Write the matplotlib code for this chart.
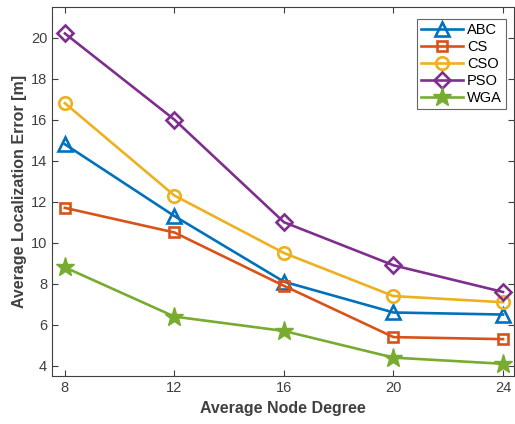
import matplotlib
matplotlib.use('Agg')
import matplotlib.pyplot as plt

degree = [8, 12, 16, 20, 24]
abc = [14.8, 11.3, 8.1, 6.6, 6.5]
cs = [11.7, 10.5, 7.9, 5.4, 5.3]
cso = [16.8, 12.3, 9.5, 7.4, 7.1]
pso = [20.2, 16.0, 11.0, 8.9, 7.6]
wga = [8.8, 6.4, 5.7, 4.4, 4.1]

plt.rcParams['font.family'] = 'Liberation Sans'

fig = plt.figure(figsize=(5.15, 4.24), dpi=100)
ax = fig.add_axes([0.101, 0.113, 0.897, 0.870])

ax.plot(degree, abc, color='#0072BD', lw=1.9, marker='^', ms=10, mfc='none', mew=1.9, label='ABC')
ax.plot(degree, cs, color='#D95319', lw=1.9, marker='s', ms=7, mfc='none', mew=1.9, label='CS')
ax.plot(degree, cso, color='#EDB120', lw=1.9, marker='o', ms=9, mfc='none', mew=1.9, label='CSO')
ax.plot(degree, pso, color='#7E2F8E', lw=1.9, marker='D', ms=8, mfc='none', mew=1.9, label='PSO')
ax.plot(degree, wga, color='#77AC30', lw=1.9, marker='*', ms=14, label='WGA')

ax.set_xlim(7.53, 24.4)
ax.set_ylim(3.5, 21.48)
ax.set_xticks(degree)
ax.set_yticks(range(4, 21, 2))
ax.tick_params(direction='in', labelsize=10.5, colors='#404040', length=4, top=True, right=True, labeltop=False, labelright=False)
for s in ax.spines.values():
    s.set_color('#404040')
    s.set_linewidth(0.8)

ax.set_xlabel('Average Node Degree', fontsize=11.5, fontweight='bold', color='#404040')
ax.set_ylabel('Average Localization Error [m]', fontsize=11.5, fontweight='bold', color='#404040', labelpad=3)

leg = ax.legend(loc='upper right', bbox_to_anchor=(0.983, 0.968), borderaxespad=0,
                fontsize=10.5, fancybox=False, edgecolor='#404040',
                handlelength=2.9, labelspacing=0.2, handletextpad=0.25, borderpad=0.3)
leg.get_frame().set_linewidth(0.8)

fig.savefig('out.png', dpi=100)
